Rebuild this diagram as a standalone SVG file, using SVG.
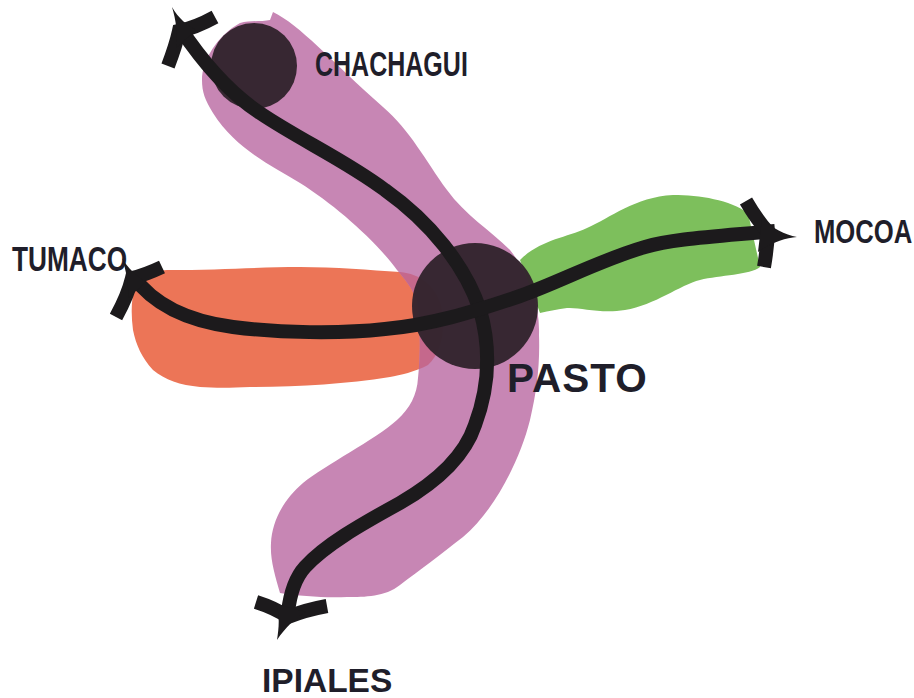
<svg xmlns="http://www.w3.org/2000/svg" width="914" height="698" viewBox="0 0 914 698">
<style>
text{font-family:"Liberation Sans",Arial,sans-serif;font-weight:bold;fill:#1f1e2a}
.dot{fill:#33242d;fill-opacity:.97}
.line{fill:none;stroke:#1c1a1c;stroke-width:14}
.barb{fill:none;stroke:#1c1a1c;stroke-width:14}
.tip{fill:#1c1a1c}
</style>
<defs>
<path id="purplePath" d="M273,12 C300,25 330,60 383,107 C410,130 425,160 447,190 C465,215 490,230 510,250 C530,275 540,305 539,335 C540,365 537,390 530,420 C520,460 495,510 463,537 C440,555 420,570 400,585 C385,597 365,597 347,597 C325,598 300,596 280,593 C275,575 270,560 271,543 C272,520 285,498 303,483 C325,465 375,440 397,420 C410,408 417,395 418,378 C421,350 420,320 417,300 C412,288 404,278 397,270 C375,240 335,205 300,183 C270,165 235,148 213,113 C205,100 202,92 202,80 C202,60 218,35 240,23 C250,20 262,22 270,20 Z"/>
<path id="orangePath" d="M167,270 C220,270 260,267 300,267 C335,267 370,270 400,272 C420,274 435,285 441,305 C446,330 442,352 428,365 C415,372 400,375 390,377 C345,384 300,387 250,387 C230,388 215,388 200,387 C180,385 165,380 153,370 C142,358 136,345 133,330 C131,315 131,300 135,285 C140,275 152,271 167,270 Z"/>
<clipPath id="purpleClip"><use href="#purplePath"/></clipPath>
</defs>
<g id="regions">
<use id="region-orange" href="#orangePath" fill="#ec7557"/>
<use id="region-purple" href="#purplePath" fill="#c786b4"/>
<use href="#orangePath" fill="#c5688c" clip-path="url(#purpleClip)"/>
<path id="region-green" fill="#7dbf5c" d="M520,260 C540,240 565,238 587,228 C610,218 635,197 673,195 C700,195 730,200 748,213 L760,267 C750,275 720,275 700,280 C680,285 655,305 625,310 C600,314 580,307 567,308 C558,309 549,311 540,313 Z"/>
</g>
<g id="node-chachagui">
<circle class="dot" cx="254" cy="66" r="43"/>
<text transform="translate(315,76) scale(.715,1)" font-size="35">CHACHAGUI</text>
</g>
<g id="node-pasto">
<circle class="dot" cx="475" cy="306" r="63"/>
<text x="507" y="392" font-size="40.5" letter-spacing="1">PASTO</text>
</g>
<g id="node-mocoa">
<text transform="translate(814,243) scale(.777,1)" font-size="33">MOCOA</text>
</g>
<g id="node-tumaco">
<text transform="translate(12,271) scale(.75,1)" font-size="35">TUMACO</text>
</g>
<g id="node-ipiales">
<text x="262" y="692" font-size="33.5">IPIALES</text>
</g>
<g id="connectors">
<path class="line" d="M180,28 C200,58 225,90 260,113 C300,140 345,160 385,190 C430,222 465,265 480,310 C490,345 490,385 475,425 C465,455 440,480 400,503 C360,525 325,545 305,567 C295,578 290,595 288,612"/>
<path class="line" d="M133,276 C150,300 180,320 233,327 C280,333 340,334 385,329 C430,325 470,313 520,296 C560,282 600,260 645,247 C672,239 710,237 775,231"/>
<path class="barb" d="M215,17 Q195,28 179,31 Q176,45 168,66"/>
<path class="tip" d="M172,7 C178,18 188,26 196,30 L176,48 C178,35 176,20 172,7 Z"/>
<path class="barb" d="M162,267 Q145,275 132,278 Q128,295 116,317"/>
<path class="tip" d="M122,258 C128,268 136,276 146,282 L128,298 C129,285 126,270 122,258 Z"/>
<path class="barb" d="M746,201 Q757,220 768,232 Q767,250 764,267"/>
<path class="tip" d="M797,237 C785,235 772,228 762,218 L758,252 C770,243 785,238 797,237 Z"/>
<path class="barb" d="M256,602 Q275,608 288,617 Q305,610 327,606"/>
<path class="tip" d="M277,640 C279,628 280,615 276,604 L306,612 C295,618 285,628 277,640 Z"/>
</g>
</svg>
